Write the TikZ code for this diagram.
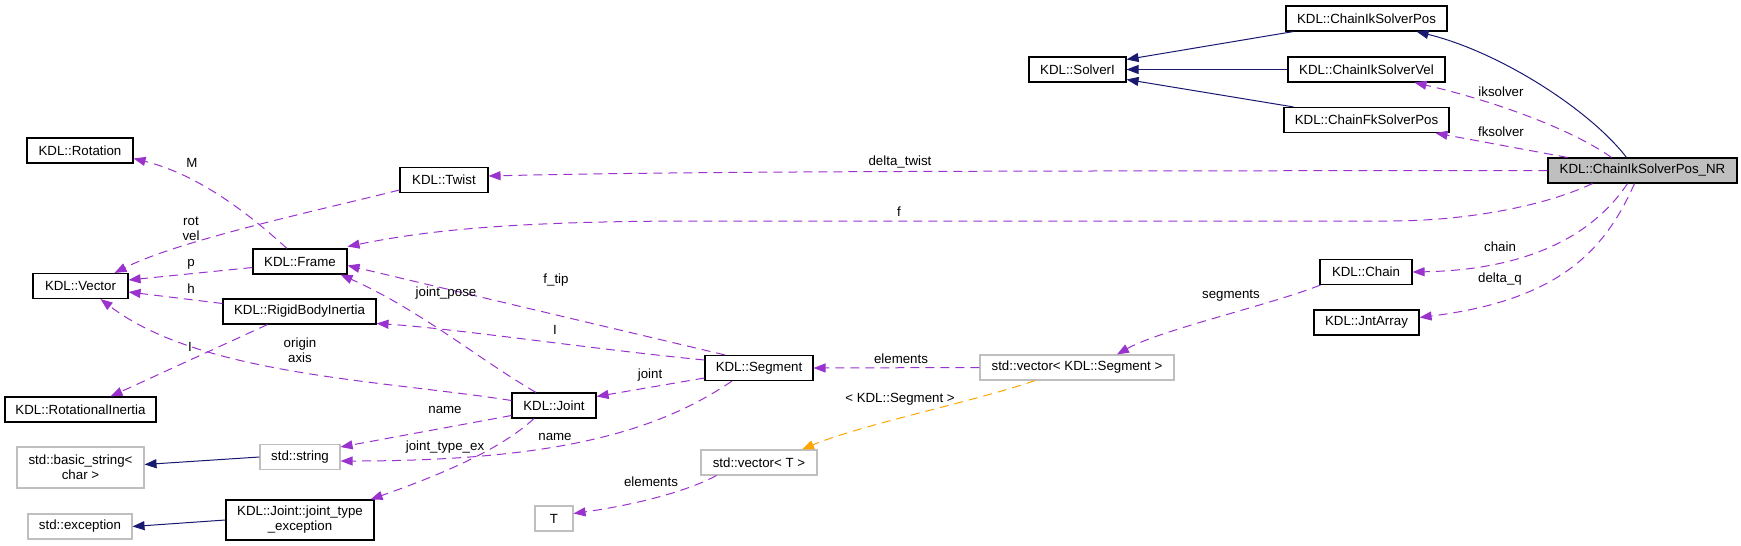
\documentclass[tikz,border=0pt]{standalone}
\usepackage{fontspec}
\setmainfont{Liberation Sans}
\usetikzlibrary{arrows.meta,calc}
\definecolor{edgepurple}{HTML}{9A32CD}
\definecolor{edgenavy}{HTML}{191970}
\definecolor{edgeorange}{HTML}{FFA500}
\definecolor{boxgray}{HTML}{BFBFBF}
\newcommand\dgfont{\fontsize{13.3}{15}\selectfont}
\tikzset{
  cls/.style={draw=black, line width=1.1pt, fill=white, minimum height=25pt, inner sep=0pt, font=\dgfont, text=black},
  ext/.style={cls, draw=boxgray},
  inh/.style={draw=edgenavy, line width=1pt, -{Triangle[length=12pt,width=9pt]}},
  uses/.style={draw=edgepurple, line width=1pt, dash pattern=on 9pt off 6pt, -{Triangle[length=12pt,width=9pt]}},
  tmpl/.style={uses, draw=edgeorange},
  lbl/.style={font=\dgfont, inner sep=0pt, align=center, text=black},
}
\begin{document}
\begin{tikzpicture}[x=1pt,y=-1pt]
\useasboundingbox (0,0) rectangle (1741,546);
% nodes
\node[cls, minimum width=161pt] (cisp) at (1366.5,18.5) {KDL::ChainIkSolverPos};
\node[cls, minimum width=97pt] (solveri) at (1077.5,69.5) {KDL::SolverI};
\node[cls, minimum width=157pt] (cisv) at (1366.5,69.5) {KDL::ChainIkSolverVel};
\node[cls, minimum width=165pt] (cfsp) at (1366.5,120) {KDL::ChainFkSolverPos};
\node[cls, fill=boxgray, minimum width=189pt] (nr) at (1642.5,170.5) {KDL::ChainIkSolverPos\_NR};
\node[cls, minimum width=92pt] (chain) at (1366,272) {KDL::Chain};
\node[cls, minimum width=105pt] (jnt) at (1366.5,322.5) {KDL::JntArray};
\node[ext, minimum width=194pt] (vecseg) at (1077,367.5) {std::vector< KDL::Segment >};
\node[ext, minimum width=116pt] (vect) at (759,462.5) {std::vector< T >};
\node[ext, minimum width=38pt] (tt) at (554,518.5) {T};
\node[cls, minimum width=108pt] (segment) at (759,368) {KDL::Segment};
\node[cls, minimum width=84pt] (joint) at (554,405.5) {KDL::Joint};
\node[cls, minimum width=148pt, minimum height=40pt, align=center] (jte) at (300,520) {KDL::Joint::joint\_type\\\_exception};
\node[ext, minimum width=80pt] (string) at (300,457) {std::string};
\node[ext, minimum width=127pt, minimum height=41pt, align=center] (bstring) at (80.5,467.5) {std::basic\_string<\\char >};
\node[ext, minimum width=104pt] (exc) at (80,526.5) {std::exception};
\node[cls, minimum width=151pt] (rotin) at (80.5,409.5) {KDL::RotationalInertia};
\node[cls, minimum width=153pt] (rbi) at (299.5,311.5) {KDL::RigidBodyInertia};
\node[cls, minimum width=95pt] (vector) at (80.5,286) {KDL::Vector};
\node[cls, minimum width=94pt] (frame) at (300,261.5) {KDL::Frame};
\node[cls, minimum width=106pt] (rotation) at (80,150.5) {KDL::Rotation};
\node[cls, minimum width=88pt] (twist) at (444,180) {KDL::Twist};
% inheritance
\draw[inh] ($(cisp.south west)+(8,0)$) -- ($(solveri.east)+(0,-10)$);
\draw[inh] (cisv.west) -- (solveri.east);
\draw[inh] ($(cfsp.north west)+(10,0)$) -- ($(solveri.east)+(0,10)$);
\draw[inh] ($(nr.north)+(-16,0)$) .. controls (1590,110) and (1500,52) .. ($(cisp.south)+(50,0)$);
\draw[inh] (string.west) -- ($(bstring.east)+(0,-3)$);
\draw[inh] (jte.west) -- (exc.east);
% usage
\draw[uses] ($(nr.north)+(-31,0)$) .. controls (1570,128) and (1490,100) .. ($(cisv.south)+(48,0)$);
\node[lbl] (liks) at (1501,92) {iksolver};
\draw[uses] ($(nr.north west)+(20,0)$) -- ($(cfsp.south)+(69,0)$);
\node[lbl] (lfks) at (1501,132) {fksolver};
\draw[uses] (nr.west) .. controls (1000,171) and (700,171) .. ($(twist.east)+(0,-4)$);
\node[lbl] (ldt) at (900,162) {delta\_twist};
\draw[uses] ($(nr.south)+(-50,0)$) .. controls (1540,208) and (1460,221) .. (1390,221) -- (700,221) .. controls (500,221) and (420,232) .. ($(frame.east)+(0,-15)$);
\node[lbl] (lf) at (899,212) {f};
\draw[uses] ($(nr.south)+(-15,0)$) .. controls (1590,240) and (1520,270) .. (chain.east);
\node[lbl] (lchain) at (1500,247) {chain};
\draw[uses] ($(nr.south)+(-8,0)$) .. controls (1605,250) and (1560,300) .. ($(jnt.east)+(0,-5)$);
\node[lbl] (ldq) at (1500,279) {delta\_q};
\draw[uses] ($(chain.south west)+(1,0)$) .. controls (1270,305) and (1160,330) .. ($(vecseg.north)+(40,0)$);
\node[lbl] (lseg) at (1231,296) {segments};
\draw[uses] (vecseg.west) -- (segment.east);
\node[lbl] (lel1) at (901,359) {elements};
\draw[tmpl] ($(vecseg.south)+(-42,0)$) .. controls (980,400) and (860,425) .. ($(vect.north)+(43,0)$);
\node[lbl] (ltmpl) at (900,399) {< KDL::Segment >};
\draw[uses] ($(vect.south west)+(16,0)$) .. controls (680,495) and (620,507) .. ($(tt.east)+(0,-5)$);
\node[lbl] (lel2) at (651,482) {elements};
\draw[uses] ($(segment.north)+(-34,0)$) -- ($(frame.east)+(0,4)$);
\node[lbl] (lftip) at (556,280) {f\_tip};
\draw[uses] ($(segment.west)+(0,-8)$) .. controls (600,350) and (450,328) .. ($(rbi.east)+(0,12)$);
\node[lbl] (lI1) at (555,330) {I};
\draw[uses] ($(segment.west)+(0,10)$) -- ($(joint.east)+(0,-9)$);
\node[lbl] (ljoint) at (650,375) {joint};
\draw[uses] ($(segment.south)+(-27,0)$) .. controls (660,430) and (560,461) .. ($(string.east)+(0,4)$);
\node[lbl] (lname1) at (555,437) {name};
\draw[uses] ($(joint.north)+(-18,0)$) .. controls (480,360) and (420,310) .. ($(frame.south east)+(-7,0)$);
\node[lbl] (ljp) at (446,293) {joint\_pose};
\draw[uses] ($(joint.west)+(0,-5)$) .. controls (380,380) and (200,375) .. ($(vector.south)+(20,0)$);
\node[lbl] (lorig) at (300,350.5) {origin\\axis};
\draw[uses] ($(joint.west)+(0,10)$) -- ($(string.east)+(0,-10)$);
\node[lbl] (lname2) at (445,410) {name};
\draw[uses] ($(joint.south)+(-20,0)$) .. controls (500,450) and (440,475) .. ($(jte.north east)+(-4,0)$);
\node[lbl] (ljte) at (445,447) {joint\_type\_ex};
\draw[uses] ($(frame.west)+(0,6)$) -- ($(vector.east)+(0,-6)$);
\node[lbl] (lp) at (191,264) {p};
\draw[uses] ($(frame.north)+(-13,0)$) .. controls (250,215) and (200,175) .. ($(rotation.east)+(0,8)$);
\node[lbl] (lM) at (192,163) {M};
\draw[uses] ($(twist.west)+(0,10)$) .. controls (320,210) and (180,240) .. ($(vector.north)+(34,0)$);
\node[lbl] (lrv) at (191,228.5) {rot\\vel};
\draw[uses] ($(rbi.west)+(0,-8)$) -- ($(vector.east)+(0,6)$);
\node[lbl] (lh) at (191,289) {h};
\draw[uses] ($(rbi.south)+(-32,0)$) -- ($(rotin.north)+(30,0)$);
\node[lbl] (lI2) at (190,347) {I};
\end{tikzpicture}
\end{document}
